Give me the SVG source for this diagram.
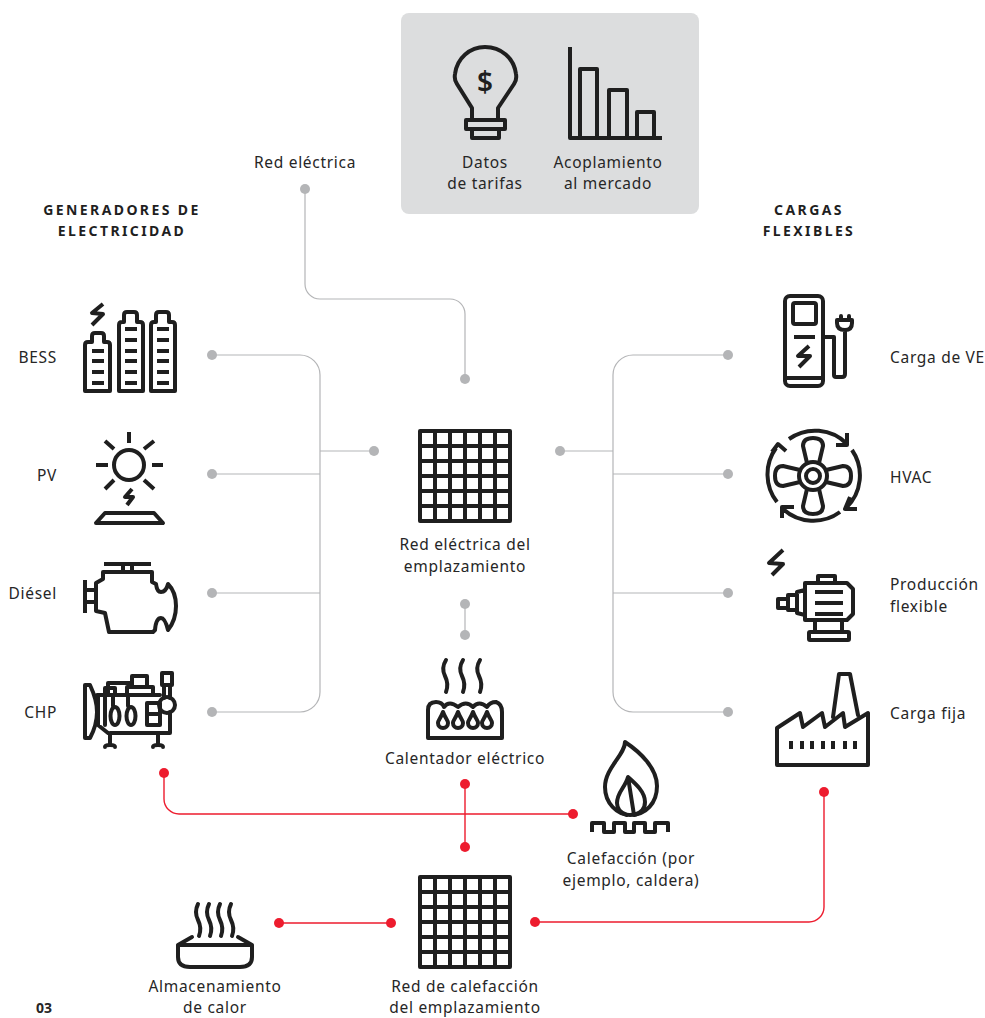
<svg xmlns="http://www.w3.org/2000/svg" width="985" height="1018" viewBox="0 0 985 1018">
<style>
text{font-family:"Noto Sans","Liberation Sans",sans-serif;font-size:15.5px;fill:#262626;letter-spacing:.7px}
.m{text-anchor:middle}.e{text-anchor:end}
.h{font-size:14px;font-weight:700;letter-spacing:2.4px;text-anchor:middle;fill:#1f1f1f}
.i{fill:none;stroke:#1f1f1f;stroke-width:4;stroke-linejoin:round;stroke-linecap:round}
.b{stroke-linecap:butt}
.g{fill:none;stroke:#b4b5b7;stroke-width:1.2}
.r{fill:none;stroke:#ed1c2e;stroke-width:1.4}
.gd{fill:#b4b5b7}.rd{fill:#ed1c2e}
</style>
<g id="market-panel"><rect x="401" y="13" width="298" height="201" rx="8" fill="#dcddde"/></g>
<g id="connectors">
<path class="g" d="M305,189V284a15,15 0 0 0 15,15H450a15,15 0 0 1 15,15V379"/>
<path class="g" d="M212,355H300a20,20 0 0 1 20,20V692a20,20 0 0 1 -20,20H212M212,474H320M212,593H320M320,451H374"/>
<path class="g" d="M728,355H633a20,20 0 0 0 -20,20V692a20,20 0 0 0 20,20H728M728,474H613M728,593H613M613,451H560"/>
<path class="g" d="M465,604V635"/>
<path class="r" d="M164,773V799a15,15 0 0 0 15,15H573M465,784V847M279,923H391M535,922H809a15,15 0 0 0 15,-15V792"/>
<g class="gd"><circle cx="305" cy="189" r="5"/><circle cx="465" cy="379" r="5"/><circle cx="212" cy="355" r="5"/><circle cx="212" cy="474" r="5"/><circle cx="212" cy="593" r="5"/><circle cx="212" cy="712" r="5"/><circle cx="374" cy="451" r="5"/><circle cx="560" cy="451" r="5"/><circle cx="728" cy="355" r="5"/><circle cx="728" cy="474" r="5"/><circle cx="728" cy="593" r="5"/><circle cx="728" cy="712" r="5"/><circle cx="465" cy="604" r="5"/><circle cx="465" cy="635" r="5"/></g>
<g class="rd"><circle cx="164" cy="773" r="5"/><circle cx="573" cy="814" r="5"/><circle cx="465" cy="784" r="5"/><circle cx="465" cy="847" r="5"/><circle cx="279" cy="923" r="5"/><circle cx="391" cy="923" r="5"/><circle cx="535" cy="922" r="5"/><circle cx="824" cy="792" r="5"/></g>
</g>
<g id="tarifas"><path class="i" d="M472,118V108L457,84Q454,80 455,74C457,58 470,47 485,47C501,47 514,58 516,74Q517,80 514,84L498,108V118"/><rect class="i" x="466" y="120" width="39" height="9"/><rect class="i" x="472" y="129" width="27" height="9"/>
<text x="485" y="92" class="m" style="font-size:28px;font-weight:600;letter-spacing:0;fill:#1f1f1f">$</text>
<text x="485" y="168" class="m">Datos</text><text x="485" y="189" class="m">de tarifas</text></g>
<g id="mercado"><path class="i b" d="M570,47V138H662"/><path class="i" d="M580,138V69H597V138M609,138V90H627V138M637,138V112H654V138"/>
<text x="608" y="168" class="m">Acoplamiento</text><text x="608" y="189" class="m">al mercado</text></g>
<g id="red-electrica"><text x="305" y="168" class="m">Red eléctrica</text></g>
<g id="titulo-generadores"><text x="122" y="215" class="h">GENERADORES DE</text><text x="122" y="236" class="h">ELECTRICIDAD</text></g>
<g id="titulo-cargas"><text x="809" y="215" class="h">CARGAS</text><text x="809" y="236" class="h">FLEXIBLES</text></g>
<g id="bess"><path class="i" d="M85,391V345Q85,342 88,342H92V336Q92,333 95,333H101Q104,333 104,336V342H107Q110,342 110,345V391ZM119,391V325Q119,322 122,322H124V315Q124,312 127,312H134Q137,312 137,315V322H140Q143,322 143,325V391ZM151,391V325Q151,322 154,322H156V315Q156,312 159,312H166Q169,312 169,315V322H172Q175,322 175,325V391Z"/>
<path class="i b" d="M103,304L92,313L103,314L92,325"/>
<path class="i b" d="M92,351H104M92,361H104M92,372H104M92,383H104M125,329H137M125,340H137M125,351H137M125,361H137M125,372H137M125,383H137M157,329H169M157,340H169M157,351H169M157,361H169M157,372H169M157,383H169"/>
<text x="57" y="363" class="e">BESS</text></g>
<g id="pv"><circle class="i" cx="129" cy="465" r="15"/><path class="i b" d="M129,432V443M96,465H108M152,465H163M105,441L114,449M154,441L144,449M105,489L114,480M154,489L144,480M132,489L125,497L133,497L127,505"/><path class="i" d="M105,513H154L163,523H96Z"/>
<text x="57" y="481" class="e">PV</text></g>
<g id="diesel"><path class="i b" d="M104,564H151M123,565V572M132,565V572M85,580V613M85,590H96M85,602H96"/><path class="i" d="M103,572H152V582L156,584Q157,592 161,592Q166,592 168,584Q176,592 176,606Q176,620 168,630Q165,618 161,618Q156,618 155,630L153,632H109L105,613L96,611V583L103,579Z"/>
<text x="57" y="599" class="e">Diésel</text></g>
<g id="chp"><path class="i" d="M85,685H90Q97,700 97,712Q97,725 90,738H85ZM97,695H160M110,733H170M98,695V725L108,733M105,695V725M170,712V733M108,695V683H132M132,685V676H147V687M127,695V687H153V695M105,695V688H115V695M162,673H172V685H162ZM164,685V698M170,685V698M147,703H160V725H147ZM147,714H160M110,733V745M158,733V745M105,747Q105,745 110,745Q115,745 115,747M153,747Q153,745 158,745Q163,745 163,747M113,695V706M128,695V706"/>
<ellipse class="i" cx="115" cy="716" rx="4.5" ry="9"/><ellipse class="i" cx="131" cy="716" rx="4.5" ry="9"/><circle class="i" cx="167" cy="705" r="8"/>
<text x="57" y="718" class="e">CHP</text></g>
<g id="red-sitio"><rect class="i" x="420" y="431" width="90" height="90"/><path class="i b" d="M435,431V521M450,431V521M465,431V521M480,431V521M495,431V521M420,446H510M420,461H510M420,476H510M420,491H510M420,506H510"/>
<text x="465" y="550" class="m">Red eléctrica del</text><text x="465" y="572" class="m">emplazamiento</text></g>
<g id="calentador"><path class="i" d="M446,660Q441,668 445,676Q449,684 446,692M463,660Q458,668 462,676Q466,684 463,692M480,660Q475,668 479,676Q483,684 480,692"/>
<path class="i" d="M428,738V710Q428,702 436,702Q442,702 444,707Q449,700 458,707Q466,700 473,707Q479,700 487,707Q490,702 496,702Q502,704 502,712V738Z"/>
<path class="i" d="M443,712C441,718 438,720 438,723A5,5 0 0 0 448,723C448,720 445,718 443,712ZM458,712C456,718 453,720 453,723A5,5 0 0 0 463,723C463,720 460,718 458,712ZM473,712C471,718 468,720 468,723A5,5 0 0 0 478,723C478,720 475,718 473,712ZM487,712C485,718 482,720 482,723A5,5 0 0 0 492,723C492,720 489,718 487,712Z"/>
<text x="465" y="764" class="m">Calentador eléctrico</text></g>
<g id="ve"><rect class="i" x="785" y="296" width="38" height="90" rx="5"/><rect class="i" x="793" y="303" width="23" height="21" rx="2"/><path class="i b" d="M794,337H815M809,346L798,356L810,356L799,367M785,378H823"/>
<path class="i" d="M824,337H834V375Q834,377 836,377H842Q845,377 845,374V330M837,320H852V323Q852,330 845,330Q837,330 837,323ZM841,320V316M849,320V316"/>
<text x="890" y="363">Carga de VE</text></g>
<g id="hvac"><circle class="i" cx="813" cy="476" r="7"/><circle class="i" cx="813" cy="476" r="14"/>
<path class="i" d="M807,463L803,446Q803,438 813,438Q823,438 823,446L819,463M826,470L843,466Q851,466 851,476Q851,486 843,486L826,482M819,489L823,506Q823,514 813,514Q803,514 803,506L807,489M800,482L783,486Q775,486 775,476Q775,466 783,466L800,470"/>
<path class="i b" d="M789,439A45,45 0 0 1 847,444M847,433V445H836M852,450A45,45 0 0 1 846,508M850,497L845,509L857,509M840,512A45,45 0 0 1 783,509M782,518V507H794M777,502A45,45 0 0 1 776,448M772,452L778,444L786,451"/>
<text x="890" y="483">HVAC</text></g>
<g id="produccion"><path class="i b" d="M783,550L769,563L783,564L772,575"/>
<path class="i" d="M805,583H847L853,589V614L847,620H805ZM818,583V576H835V583M805,590L797,592V613L805,615M797,595H788V610H797M788,599H778V608H788M815,620V632M842,620V632"/><rect class="i" x="809" y="632" width="40" height="8" rx="1"/>
<path class="i b" d="M815,592H843M815,603H843M815,614H843"/>
<text x="890" y="590">Producción</text><text x="890" y="612">flexible</text></g>
<g id="fija"><path class="i" d="M777,765V728L800,713L803,727L822,713L825,727L843,713L845,727L868,713V765ZM833,717L839,674H850L858,715"/>
<path class="i b" d="M791,741V749M802,741V749M812,741V749M823,741V749M833,741V749M845,741V749M855,741V749"/>
<text x="890" y="719">Carga fija</text></g>
<g id="calefaccion"><path class="i" d="M625,742C625,755 605,768 605,787C605,803 617,815 630,815C646,815 657,803 657,786C657,768 640,752 625,742Z"/><path class="i" d="M628,777C625,788 617,792 617,803Q617,812 627,815M634,815Q645,812 645,802C645,792 636,784 628,777Z"/>
<path class="i b" d="M592,832V823H604V832H614V823H625V832H634V823H645V832H655V823H668V832"/>
<text x="631" y="864" class="m">Calefacción (por</text><text x="631" y="886" class="m">ejemplo, caldera)</text></g>
<g id="almacenamiento"><path class="i" d="M178,945H252V957Q252,967 240,967H190Q178,967 178,957ZM178,945L192,937M252,945L238,937"/><path class="i" d="M198,904Q194,912 198,920Q202,928 199,936M209,904Q205,912 209,920Q213,928 210,936M220,904Q216,912 220,920Q224,928 221,936M231,904Q227,912 231,920Q235,928 232,936"/>
<text x="215" y="992" class="m">Almacenamiento</text><text x="215" y="1013" class="m">de calor</text></g>
<g id="red-calefaccion"><rect class="i" x="420" y="877" width="90" height="90"/><path class="i b" d="M435,877V967M450,877V967M465,877V967M480,877V967M495,877V967M420,892H510M420,907H510M420,922H510M420,937H510M420,952H510"/>
<text x="465" y="992" class="m">Red de calefacción</text><text x="465" y="1013" class="m">del emplazamiento</text></g>
<g id="numero"><text x="36" y="1013" style="font-weight:700;font-size:14px;letter-spacing:0">03</text></g>
</svg>
